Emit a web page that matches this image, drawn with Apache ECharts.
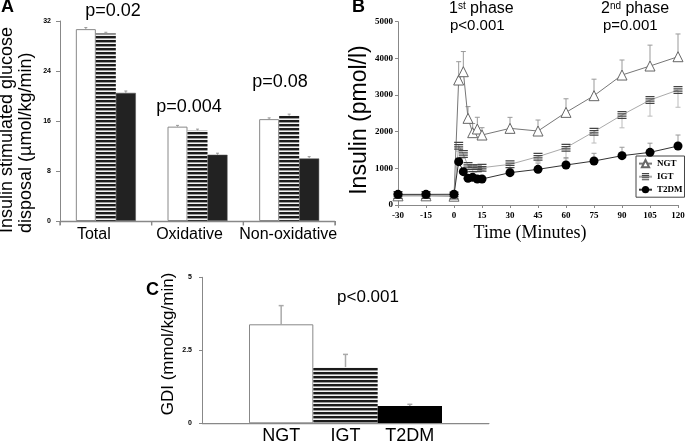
<!DOCTYPE html>
<html><head><meta charset="utf-8">
<script src="https://cdn.jsdelivr.net/npm/echarts@6/dist/echarts.min.js"></script>
<style>html,body{margin:0;padding:0;background:#fff}#c{width:685px;height:443px}</style>
</head><body><div id="c"></div>
<script>
// ---------- Panel A data ----------
const aCategories = ['Total', 'Oxidative', 'Non-oxidative'];
const aNGT = [30.7, 15.1, 16.3];
const aIGT = [30.0, 14.5, 16.85];
const aT2DM = [20.5, 10.6, 10.0];
const aNGTErr = [0.25, 0.2, 0.2];
const aIGTErr = [0.2, 0.2, 0.25];
const aT2DMErr = [0.3, 0.25, 0.3];
const aPValues = ['p=0.02', 'p=0.004', 'p=0.08'];

// ---------- Panel B data ----------
const bTimes = [-30, -15, 0, 2.5, 5, 7.5, 10, 12.5, 15, 30, 45, 60, 75, 90, 105, 120];
const bNGT = [250, 250, 240, 3409, 3636, 2364, 1973, 2073, 1909, 2091, 2018, 2527, 2982, 3545, 3791, 4045];
const bNGTErr = [20, 20, 20, 500, 550, 320, 250, 320, 200, 300, 300, 370, 450, 410, 570, 620];
const bIGT = [270, 270, 260, 1618, 1391, 1064, 1000, 1000, 1018, 1109, 1318, 1564, 2000, 2455, 2864, 3136];
const bIGTErr = [20, 20, 20, 150, 120, 100, 80, 80, 80, 120, 140, 300, 310, 350, 440, 470];
const bT2DM = [290, 290, 292, 1182, 909, 727, 755, 709, 709, 882, 973, 1091, 1200, 1345, 1436, 1609];
const bT2DMErr = [20, 20, 20, 100, 80, 60, 60, 60, 60, 100, 170, 200, 210, 230, 250, 300];

// ---------- Panel C data ----------
const cGroups = ['NGT', 'IGT', 'T2DM'];
const cGDI = [3.39, 1.92, 0.59];
const cGDIErr = [0.64, 0.44, 0.06];

const SANS = '"Liberation Sans", Arial, sans-serif';
const SERIF = '"Liberation Serif", "Times New Roman", serif';

function stripes() {
  const cv = document.createElement('canvas');
  cv.width = 4; cv.height = 4;
  const g = cv.getContext('2d');
  g.fillStyle = '#f2f2f2'; g.fillRect(0, 0, 4, 4);
  g.fillStyle = '#1a1a1a'; g.fillRect(0, 0, 4, 2);
  g.fillStyle = '#999'; g.fillRect(0, 2, 4, 1);
  return { image: cv, repeat: 'repeat' };
}
const stripePattern = stripes();

function errSeries(xIdx, yIdx, data, color, capW, offset, z, lw) {
  return {
    type: 'custom', xAxisIndex: xIdx, yAxisIndex: yIdx, z: z, silent: true,
    data: data,
    renderItem: function (params, api) {
      const p0 = api.coord([api.value(0), api.value(1)]);
      const p1 = api.coord([api.value(0), api.value(2)]);
      const x = p0[0] + offset;
      return { type: 'group', children: [
        { type: 'line', shape: { x1: x, y1: p0[1], x2: x, y2: p1[1] }, style: { stroke: color, lineWidth: lw || 1 } },
        { type: 'line', shape: { x1: x - capW / 2, y1: p1[1], x2: x + capW / 2, y2: p1[1] }, style: { stroke: color, lineWidth: lw || 1 } }
      ] };
    }
  };
}

const igtPath = 'path://M0,0H10V1.6H0Z M0,2.8H10V4.4H0Z M0,5.6H10V7.2H0Z M0,8.4H10V10H0Z';
const plain = function (v) { return String(v); };

const chart = echarts.init(document.getElementById('c'));
const axisGrey = '#888';

// grid rectangles (layout)
const gA = { left: 60, top: 21, width: 275, height: 200 };
const gB = { left: 398, top: 21.7, width: 280, height: 183.3 };
const gCx = { left: 202, top: 277.3, width: 287, height: 146 };
const gCb = { left: 249, top: 277.3, width: 193, height: 146 };

const axisGraphics = [];
function hline(x1, x2, y) {
  axisGraphics.push({ type: 'line', z: 100, shape: { x1: x1, y1: y, x2: x2, y2: y }, style: { stroke: axisGrey, lineWidth: 1.4 } });
}
function vline(x, y1, y2) {
  axisGraphics.push({ type: 'line', z: 100, shape: { x1: x, y1: y1, x2: x, y2: y2 }, style: { stroke: axisGrey, lineWidth: 1.4 } });
}
const aBase = gA.top + gA.height + 0.5;
hline(gA.left, gA.left + gA.width, aBase);
for (let k = 0; k <= aCategories.length; k++) {
  const x = gA.left + k * gA.width / aCategories.length;
  vline(x, aBase, aBase + 4);
}
const cBase = gCx.top + gCx.height + 0.3;
hline(gCx.left, gCx.left + gCx.width, cBase);

const option = {
  animation: false,
  backgroundColor: '#fff',
  textStyle: { fontFamily: SANS },
  grid: [
    Object.assign({ outerBoundsMode: 'none' }, gA),
    Object.assign({ outerBoundsMode: 'none' }, gB),
    Object.assign({ outerBoundsMode: 'none' }, gCx),
    Object.assign({ outerBoundsMode: 'none' }, gCb)
  ],
  xAxis: [
    { gridIndex: 0, type: 'category', data: aCategories,
      axisLine: { show: true, onZero: false, lineStyle: { color: axisGrey } },
      axisTick: { show: true, length: 4, interval: 0, lineStyle: { color: axisGrey } },
      axisLabel: { interval: 0, color: '#000', fontSize: 16, fontFamily: SANS, margin: 6,
        formatter: function (v, i) { return '{s' + i + '|' + v + '}'; },
        rich: {
          s0: { fontSize: 16, fontFamily: SANS, color: '#000', padding: [0, 24, 0, 0] },
          s1: { fontSize: 16, fontFamily: SANS, color: '#000', padding: [0, 16, 0, 0] },
          s2: { fontSize: 16, fontFamily: SANS, color: '#000', padding: [0, 2, 0, 0] }
        } },
      splitLine: { show: false } },
    { gridIndex: 1, type: 'value', min: -30, max: 120, interval: 15,
      axisLine: { show: true, onZero: false, lineStyle: { color: axisGrey } },
      axisTick: { show: true, length: 3, lineStyle: { color: axisGrey } },
      axisLabel: { color: '#000', fontSize: 9, fontWeight: 'bold', fontFamily: SERIF, margin: 6, formatter: plain },
      splitLine: { show: false } },
    { gridIndex: 2, type: 'value', min: 0, max: 1,
      axisLine: { show: true, onZero: false, lineStyle: { color: axisGrey } },
      axisTick: { show: false }, axisLabel: { show: false }, splitLine: { show: false } },
    { gridIndex: 3, type: 'category', data: cGroups,
      axisLine: { show: false }, axisTick: { show: false },
      axisLabel: { interval: 0, color: '#000', fontSize: 18, fontFamily: SANS, margin: 4 },
      splitLine: { show: false } }
  ],
  yAxis: [
    { gridIndex: 0, type: 'value', min: 0, max: 32, interval: 8,
      axisLine: { show: true, onZero: false, lineStyle: { color: axisGrey } },
      axisTick: { show: true, length: 4, lineStyle: { color: axisGrey } },
      axisLabel: { color: '#000', fontSize: 7, fontWeight: 'bold', fontFamily: SANS, margin: 9, formatter: plain },
      splitLine: { show: false } },
    { gridIndex: 1, type: 'value', min: 0, max: 5000, interval: 1000,
      axisLine: { show: true, onZero: false, lineStyle: { color: axisGrey } },
      axisTick: { show: true, length: 3, lineStyle: { color: axisGrey } },
      axisLabel: { color: '#000', fontSize: 9, fontWeight: 'bold', fontFamily: SERIF, margin: 5, formatter: plain },
      splitLine: { show: false } },
    { gridIndex: 2, type: 'value', min: 0, max: 5, interval: 2.5,
      axisLine: { show: true, onZero: false, lineStyle: { color: axisGrey } },
      axisTick: { show: true, length: 3, lineStyle: { color: axisGrey } },
      axisLabel: { color: '#000', fontSize: 7, fontWeight: 'bold', fontFamily: SANS, margin: 10, formatter: plain },
      splitLine: { show: false } },
    { gridIndex: 3, type: 'value', min: 0, max: 5, show: false, splitLine: { show: false } }
  ],
  legend: {
    data: ['NGT', 'IGT', 'T2DM'],
    orient: 'vertical', left: 636, top: 156,
    padding: [3, 2, 3, 2], itemGap: 4, itemWidth: 13, itemHeight: 9,
    borderColor: '#444', borderWidth: 1, backgroundColor: '#fff',
    textStyle: { fontFamily: SERIF, fontWeight: 'bold', fontSize: 9, color: '#000' },
    selectedMode: false
  },
  series: [
    // Panel A bars
    { name: 'A NGT', type: 'bar', xAxisIndex: 0, yAxisIndex: 0, data: aNGT, barWidth: 20, barGap: '0%',
      itemStyle: { color: '#fff', borderColor: '#888', borderWidth: 1 } },
    { name: 'A IGT', type: 'bar', xAxisIndex: 0, yAxisIndex: 0, data: aIGT, barWidth: 20, barGap: '0%',
      itemStyle: { color: stripePattern } },
    { name: 'A T2DM', type: 'bar', xAxisIndex: 0, yAxisIndex: 0, data: aT2DM, barWidth: 20, barGap: '0%',
      itemStyle: { color: '#222', borderColor: '#555', borderWidth: 0.5 } },
    errSeries(0, 0, aNGT.map((v, i) => [i, v, v + aNGTErr[i]]), '#999', 3, -20, 5),
    errSeries(0, 0, aIGT.map((v, i) => [i, v, v + aIGTErr[i]]), '#999', 3, 0, 5),
    errSeries(0, 0, aT2DM.map((v, i) => [i, v, v + aT2DMErr[i]]), '#999', 3, 20, 5),

    // Panel B error bars
    errSeries(1, 1, bTimes.map((t, i) => [t, bNGT[i], bNGT[i] + bNGTErr[i]]), '#999', 5, 0, 1),
    errSeries(1, 1, bTimes.map((t, i) => [t, bIGT[i], bIGT[i] - bIGTErr[i]]), '#bbb', 5, 0, 1),
    errSeries(1, 1, bTimes.map((t, i) => [t, bT2DM[i], bT2DM[i] + bT2DMErr[i]]), '#999', 5, 0, 1),
    // Panel B lines
    { name: 'NGT', type: 'line', xAxisIndex: 1, yAxisIndex: 1, z: 3,
      data: bTimes.map((t, i) => [t, bNGT[i]]),
      symbol: 'triangle', symbolSize: 10,
      lineStyle: { color: '#777', width: 1 },
      itemStyle: { color: '#fff', borderColor: '#666', borderWidth: 1 } },
    { name: 'IGT', type: 'line', xAxisIndex: 1, yAxisIndex: 1, z: 4,
      data: bTimes.map((t, i) => [t, bIGT[i]]),
      symbol: igtPath, symbolSize: [9, 8],
      lineStyle: { color: '#aaa', width: 1 },
      itemStyle: { color: '#444' } },
    { name: 'T2DM', type: 'line', xAxisIndex: 1, yAxisIndex: 1, z: 5,
      data: bTimes.map((t, i) => [t, bT2DM[i]]),
      symbol: 'circle', symbolSize: 9,
      lineStyle: { color: '#333', width: 1 },
      itemStyle: { color: '#000' } },

    // Panel C bars
    { name: 'GDI', type: 'bar', xAxisIndex: 3, yAxisIndex: 3, barCategoryGap: '0%',
      data: cGDI.map((v, i) => ({
        value: v,
        itemStyle: i === 0 ? { color: '#fff', borderColor: '#888', borderWidth: 1 }
                 : i === 1 ? { color: stripePattern } : { color: '#000' }
      })) },
    errSeries(3, 3, cGDI.map((v, i) => [i, v, v + cGDIErr[i]]), '#aaa', 5, 0, 1, 1.5)
  ],
  graphic: axisGraphics.concat([
    { type: 'text', x: 1, y: -2, style: { text: 'A', font: 'bold 18px ' + SANS, fill: '#000' } },
    { type: 'text', x: 352, y: -2, style: { text: 'B', font: 'bold 18px ' + SANS, fill: '#000' } },
    { type: 'text', x: 146, y: 281, style: { text: 'C', font: 'bold 18px ' + SANS, fill: '#000' } },
    { type: 'text', x: -2, y: 233, rotation: Math.PI / 2,
      style: { text: 'Insulin stimulated glucose\ndisposal (µmol/kg/min)', font: '18px ' + SANS,
        lineHeight: 19, fill: '#000', align: 'left', verticalAlign: 'top' } },
    { type: 'text', x: 113, y: 11, style: { text: aPValues[0], font: '18px ' + SANS, fill: '#000', align: 'center', verticalAlign: 'middle' } },
    { type: 'text', x: 189, y: 107, style: { text: aPValues[1], font: '18px ' + SANS, fill: '#000', align: 'center', verticalAlign: 'middle' } },
    { type: 'text', x: 280, y: 82, style: { text: aPValues[2], font: '18px ' + SANS, fill: '#000', align: 'center', verticalAlign: 'middle' } },
    { type: 'text', x: 360, y: 120, rotation: Math.PI / 2,
      style: { text: 'Insulin (pmol/l)', font: '23px ' + SANS, fill: '#000', align: 'center', verticalAlign: 'middle' } },
    { type: 'text', x: 530, y: 233,
      style: { text: 'Time (Minutes)', font: '18px ' + SERIF, fill: '#000', align: 'center', verticalAlign: 'middle' } },
    { type: 'text', x: 449, y: 9,
      style: { text: '{a|1}{s|st}{a| phase}', align: 'left', verticalAlign: 'middle',
        rich: { a: { fontSize: 16, fontFamily: SANS, color: '#000' },
                s: { fontSize: 10, fontFamily: SANS, color: '#000', verticalAlign: 'top', padding: [0, 0, 6, 0] } } } },
    { type: 'text', x: 450, y: 26, style: { text: 'p<0.001', font: '15px ' + SANS, fill: '#000', align: 'left', verticalAlign: 'middle' } },
    { type: 'text', x: 601, y: 9,
      style: { text: '{a|2}{s|nd}{a| phase}', align: 'left', verticalAlign: 'middle',
        rich: { a: { fontSize: 16, fontFamily: SANS, color: '#000' },
                s: { fontSize: 10, fontFamily: SANS, color: '#000', verticalAlign: 'top', padding: [0, 0, 6, 0] } } } },
    { type: 'text', x: 603, y: 26, style: { text: 'p=0.001', font: '15px ' + SANS, fill: '#000', align: 'left', verticalAlign: 'middle' } },
    { type: 'text', x: 168, y: 344, rotation: Math.PI / 2,
      style: { text: 'GDI (mmol/kg/min)', font: '17px ' + SANS, fill: '#000', align: 'center', verticalAlign: 'middle' } },
    { type: 'text', x: 368, y: 297, style: { text: 'p<0.001', font: '17px ' + SANS, fill: '#000', align: 'center', verticalAlign: 'middle' } }
  ])
};
chart.setOption(option);
</script>
</body></html>
